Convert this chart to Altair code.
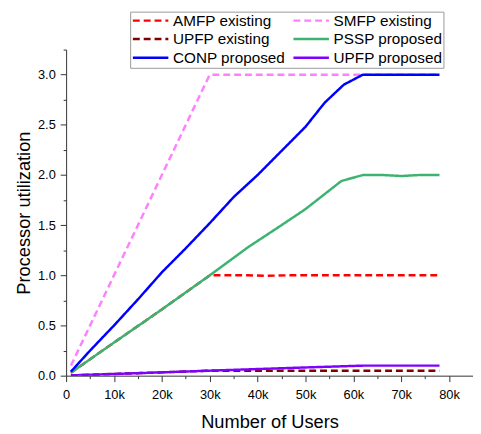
import altair as alt
import pandas as pd

series_order = ["AMFP existing", "UPFP existing", "CONP proposed",
                "SMFP existing", "PSSP proposed", "UPFP proposed"]
series_colors = ["#FF0000", "#800000", "#0000FF", "#FF80FF", "#3CB371", "#8000FF"]
series_dash = [[7, 4], [7, 4], [1, 0], [7, 4], [1, 0], [1, 0]]
existing = ["AMFP existing", "SMFP existing", "UPFP existing"]
proposed = ["PSSP proposed", "CONP proposed", "UPFP proposed"]

amfp_x = [1000, 10000, 20000, 30000, 34000, 38000, 42000, 46000, 50000, 54000, 58000, 62000, 66000, 70000, 74000, 78000]
amfp_y = [0.03, 0.33, 0.66, 1.00, 1.00, 1.00, 0.995, 1.00, 1.00, 1.00, 1.00, 1.00, 1.00, 1.00, 1.00, 1.00]

smfp_x = [1000, 10000, 20000, 30000, 38000, 46000, 54000, 62000, 70000, 78000]
smfp_y = [0.10, 1.00, 2.00, 3.00, 3.00, 3.00, 3.00, 3.00, 3.00, 3.00]

upfpe_x = [1000, 10000, 20000, 30000, 38000, 46000, 54000, 62000, 70000, 78000]
upfpe_y = [0.003, 0.017, 0.033, 0.05, 0.05, 0.05, 0.05, 0.05, 0.05, 0.05]

pssp_x = [1000, 10000, 20000, 30000, 38000, 45000, 50000, 57500, 62000, 66000, 70000, 74000, 78000]
pssp_y = [0.03, 0.33, 0.66, 1.00, 1.28, 1.50, 1.66, 1.94, 2.00, 2.00, 1.99, 2.00, 2.00]

conp_x = [1000, 5000, 10000, 15000, 20000, 25000, 30000, 35000, 40000, 45000, 50000, 54000, 58000, 62000, 66000, 70000, 74000, 78000]
conp_y = [0.04, 0.25, 0.50, 0.76, 1.03, 1.27, 1.52, 1.78, 2.00, 2.24, 2.48, 2.72, 2.90, 3.00, 3.00, 3.00, 3.00, 3.00]

upfpp_x = [1000, 10000, 20000, 30000, 40000, 50000, 60000, 62000, 66000, 70000, 74000, 78000]
upfpp_y = [0.003, 0.017, 0.033, 0.05, 0.066, 0.082, 0.097, 0.10, 0.10, 0.10, 0.10, 0.10]

x_ticks = [0, 5000, 10000, 15000, 20000, 25000, 30000, 35000, 40000, 45000,
           50000, 55000, 60000, 65000, 70000, 75000, 80000, 85000]
y_ticks = [0.0, 0.25, 0.5, 0.75, 1.0, 1.25, 1.5, 1.75, 2.0, 2.25, 2.5, 2.75, 3.0, 3.25]

rows = []
for name, xs, ys in [("AMFP existing", amfp_x, amfp_y), ("SMFP existing", smfp_x, smfp_y),
                     ("UPFP existing", upfpe_x, upfpe_y), ("PSSP proposed", pssp_x, pssp_y),
                     ("CONP proposed", conp_x, conp_y), ("UPFP proposed", upfpp_x, upfpp_y)]:
    for i, (x, y) in enumerate(zip(xs, ys)):
        rows.append({"series": name, "users": x, "util": y, "idx": i})
df = pd.DataFrame(rows)

FONT = "Liberation Sans"

x_scale = alt.Scale(domain=[0, 85000], nice=False, zero=False)
y_scale = alt.Scale(domain=[0, 3.25], nice=False)

x_axis = alt.Axis(values=x_ticks, title="Number of Users",
                  labelExpr="datum.value % 10000 !== 0 ? '' : (datum.value == 0 ? '0' : (datum.value/1000) + 'k')",
                  titleFont=FONT, titleFontSize=18.5, titleFontWeight="normal",
                  labelFont=FONT, labelFontSize=13, labelColor="#000", titleColor="#000",
                  grid=False,
                  tickSize={"condition": {"test": "datum.value % 10000 === 0", "value": 6}, "value": 3},
                  domainColor="#333", tickColor="#333",
                  labelPadding=7, titlePadding=12, labelFlush=False, labelOverlap=False)
y_axis = alt.Axis(values=y_ticks, title="Processor utilization",
                  labelExpr="datum.value % 0.5 !== 0 ? '' : format(datum.value, '.1f')",
                  titleFont=FONT, titleFontSize=18.5, titleFontWeight="normal",
                  labelFont=FONT, labelFontSize=13, labelColor="#000", titleColor="#000",
                  grid=False,
                  tickSize={"condition": {"test": "datum.value % 0.5 === 0", "value": 6}, "value": 3},
                  domainColor="#333", tickColor="#333",
                  labelPadding=5, titlePadding=4, labelOverlap=False)

color = alt.Color("series:N", scale=alt.Scale(domain=series_order, range=series_colors),
                  legend=alt.Legend(title=None, orient="none", legendX=65, legendY=-38.5,
                                    columns=2, symbolType="M-3,0H3", symbolSize=144,
                                    symbolOffset=12,
                                    symbolStrokeWidth=2.5, labelFont=FONT, labelFontSize=15.5,
                                    labelColor="#000000", strokeColor="#999999",
                                    padding=1, columnPadding=2, rowPadding=2, labelOffset=15,
                                    fillColor="white"))
dash = alt.StrokeDash("series:N", scale=alt.Scale(domain=series_order, range=series_dash), legend=None)

def lines(names):
    return alt.Chart(df).transform_filter(
        alt.FieldOneOfPredicate(field="series", oneOf=names)
    ).mark_line(strokeWidth=2.5, clip=True).encode(
        x=alt.X("users:Q", scale=x_scale, axis=x_axis),
        y=alt.Y("util:Q", scale=y_scale, axis=y_axis),
        color=color,
        strokeDash=dash,
        order="idx:Q",
    )

chart = alt.layer(
    lines(existing),
    lines(proposed),
).properties(
    width=413, height=331,
    padding={"left": 59, "top": 39, "right": 0, "bottom": 56},
    autosize=alt.AutoSizeParams(type="none"),
).configure_view(stroke=None)

chart.save("out.html", embed_options={"renderer": "svg", "actions": False})
